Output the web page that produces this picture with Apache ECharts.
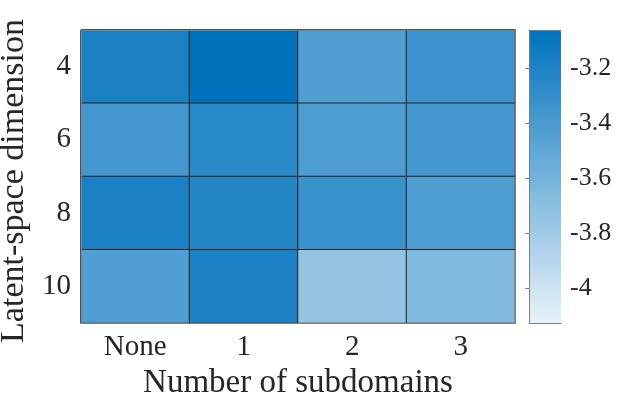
<!DOCTYPE html>
<html><head><meta charset="utf-8">
<script src="https://cdn.jsdelivr.net/npm/echarts@6/dist/echarts.min.js"></script>
<style>html,body{margin:0;padding:0;background:#fff}#c{width:620px;height:400px}</style>
</head><body><div id="c"></div>
<script>
const xCategories = ['None', '1', '2', '3'];
const yCategories = ['4', '6', '8', '10'];
const row4 = [-3.18, -3.06, -3.43, -3.34];
const row6 = [-3.37, -3.25, -3.42, -3.38];
const row8 = [-3.19, -3.23, -3.33, -3.42];
const row10 = [-3.43, -3.19, -3.74, -3.66];
const colorbarTicks = [-4, -3.8, -3.6, -3.4, -3.2];
const colorMin = -4.127, colorMax = -3.062;

const rows = [row4, row6, row8, row10];
const data = [];
rows.forEach((r, yi) => r.forEach((v, xi) => data.push([xi, yi, v])));

const font = 'Liberation Serif';
const txt = '#262626';
const frame = '#808080';
const chart = echarts.init(document.getElementById('c'));
chart.setOption({
  animation: false,
  backgroundColor: '#fff',
  grid: [
    {left: 81, top: 30, width: 434, height: 293, containLabel: false, outerBoundsMode: 'none'},
    {left: 529, top: 30, width: 32, height: 293, containLabel: false, outerBoundsMode: 'none'}
  ],
  xAxis: [
    {type: 'category', data: xCategories, gridIndex: 0, position: 'bottom', z: 10,
     axisLine: {lineStyle: {color: frame, width: 1}}, axisTick: {show: false},
     axisLabel: {fontFamily: font, fontSize: 29, color: txt, margin: 10},
     name: 'Number of subdomains', nameLocation: 'middle', nameGap: 44,
     nameTextStyle: {fontFamily: font, fontSize: 33, color: txt}},
    {type: 'category', data: xCategories, gridIndex: 0, position: 'top', z: 10,
     axisLine: {lineStyle: {color: frame, width: 1}}, axisTick: {show: false}, axisLabel: {show: false}},
    {type: 'value', gridIndex: 1, position: 'bottom', min: 0, max: 1, z: 10,
     axisLine: {lineStyle: {color: frame}}, axisTick: {show: false}, axisLabel: {show: false}, splitLine: {show: false}},
    {type: 'value', gridIndex: 1, position: 'top', min: 0, max: 1, z: 10,
     axisLine: {lineStyle: {color: frame}}, axisTick: {show: false}, axisLabel: {show: false}, splitLine: {show: false}}
  ],
  yAxis: [
    {type: 'category', data: yCategories, inverse: true, gridIndex: 0, position: 'left', z: 10,
     axisLine: {lineStyle: {color: frame, width: 1}}, axisTick: {show: false},
     axisLabel: {fontFamily: font, fontSize: 29, color: txt, margin: 10},
     name: 'Latent-space dimension', nameLocation: 'middle', nameGap: 50,
     nameTextStyle: {fontFamily: font, fontSize: 34, color: txt, padding: [0, 9, 0, 0]}},
    {type: 'category', data: yCategories, inverse: true, gridIndex: 0, position: 'right', z: 10,
     axisLine: {lineStyle: {color: frame, width: 1}}, axisTick: {show: false}, axisLabel: {show: false}},
    {type: 'value', gridIndex: 1, position: 'right', min: colorMin, max: colorMax, z: 10,
     axisLine: {show: true, lineStyle: {color: frame}},
     axisTick: {show: true, inside: true, length: 4, lineStyle: {color: frame}, customValues: colorbarTicks},
     axisLabel: {fontFamily: font, fontSize: 26, color: txt, margin: 9, customValues: colorbarTicks,
       formatter: v => (Math.round(v * 10) / 10).toString()},
     splitLine: {show: false}},
    {type: 'value', gridIndex: 1, position: 'left', min: colorMin, max: colorMax, z: 10,
     axisLine: {show: true, lineStyle: {color: frame}}, axisTick: {show: false}, axisLabel: {show: false}, splitLine: {show: false}}
  ],
  visualMap: {
    type: 'continuous', min: colorMin, max: colorMax, calculable: false, seriesIndex: 0,
    left: 529, top: 30, itemWidth: 32, itemHeight: 293, padding: 0, text: null,
    orient: 'vertical', hoverLink: false,
    inRange: {color: ['#E8F2F9', '#0072BD']}
  },
  series: [{
    type: 'heatmap', xAxisIndex: 0, yAxisIndex: 0, data: data,
    itemStyle: {borderColor: '#262626', borderWidth: 1},
    emphasis: {disabled: true}
  }]
});
</script></body></html>
